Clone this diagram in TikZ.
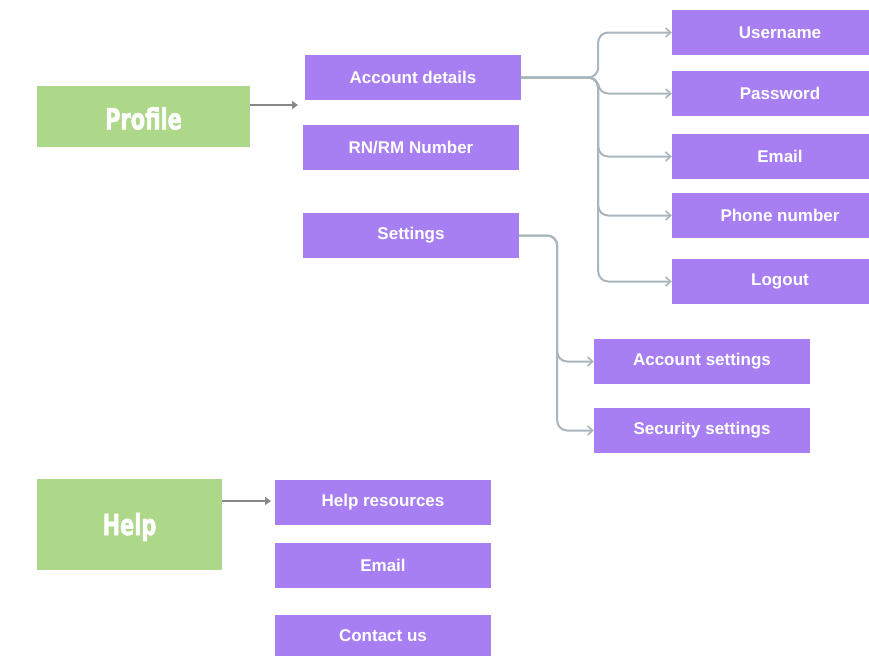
\documentclass[tikz,border=0pt]{standalone}
\usepackage{fontspec}
\setmainfont{Liberation Sans}
\newfontfamily\headfont{DejaVu Sans Condensed}[BoldFeatures={FakeBold=2}]
\usetikzlibrary{arrows.meta}
\definecolor{purp}{HTML}{A77FF2}
\definecolor{grn}{HTML}{ADD889}
\definecolor{conc}{HTML}{AAB6BD}
\definecolor{arrg}{HTML}{888888}
\newcommand{\headtxt}[1]{\scalebox{0.8}[1]{\headfont\fontsize{29}{29}\selectfont\bfseries #1}}
\tikzset{
  pbox/.style={fill=purp, text=white, font=\fontsize{17}{17}\selectfont\bfseries, minimum width=216pt, minimum height=45pt, inner sep=0pt},
  gbox/.style={fill=grn, text=white, inner sep=0pt},
  conn/.style={draw=conc, line width=2pt, rounded corners=10pt, -{Straight Barb[length=5pt,width=9pt,line width=1.6pt]}},
  garr/.style={draw=arrg, line width=2pt, -{Triangle[length=6pt,width=8pt]}}
}
\begin{document}
\begin{tikzpicture}[x=1pt,y=-1pt]
\useasboundingbox (0,0) rectangle (869,656);
\begin{scope}
\clip (0,0) rectangle (869,656);
\node[gbox, minimum width=213pt, minimum height=61pt] (profile) at (143.5,116.5) {};
\node[text=white, inner sep=0pt] (profiletxt) at (143.5,118.5) {\headtxt{Profile}};
\node[gbox, minimum width=185pt, minimum height=91pt] (help) at (129.5,524.5) {};
\node[text=white, inner sep=0pt] (helptxt) at (129.5,527) {\headtxt{Help}};

\node[pbox] (acc) at (413,77.5) {Account details};
\node[pbox] (rn) at (411,147.5) {RN/RM Number};
\node[pbox] (set) at (411,235.5) {Settings};

\node[pbox] (user) at (780,32.5) {Username};
\node[pbox] (pass) at (780,93.5) {Password};
\node[pbox] (email) at (780,156.5) {Email};
\node[pbox] (phone) at (780,215.5) {Phone number};
\node[pbox] (logout) at (780,281.5) {Logout};

\node[pbox] (accset) at (702,361.5) {Account settings};
\node[pbox] (secset) at (702,430.5) {Security settings};

\node[pbox] (hres) at (383,502.5) {Help resources};
\node[pbox] (hemail) at (383,565.5) {Email};
\node[pbox, minimum height=41pt] (contact) at (383,635.5) {Contact us};
\end{scope}

\draw[garr] (profile.east |- 0,105) -- (298,105);
\coordinate (hs) at (222,501);
\coordinate (he) at (271,501);
\draw[garr] (hs) -- (he);

\foreach \t in {user,pass,email,phone,logout}
  \draw[conn] (acc.east) -- ++(77,0) |- (\t.west);
\foreach \t in {accset,secset}
  \draw[conn] (set.east) -- ++(38,0) |- (\t.west);
\end{tikzpicture}
\end{document}
